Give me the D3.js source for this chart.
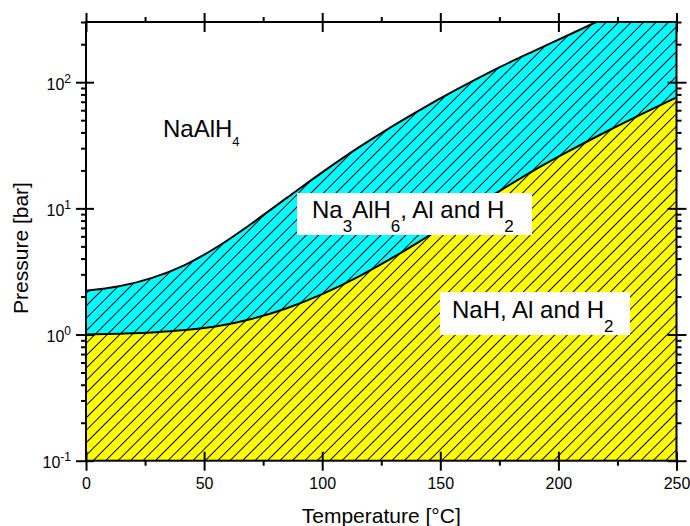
<!DOCTYPE html>
<html>
<head>
<meta charset="utf-8">
<script src="https://cdn.jsdelivr.net/npm/d3@7"></script>
<style>
  body { margin: 0; background: #fff; }
  text { font-family: "Liberation Sans", Arial, sans-serif; fill: #000; }
</style>
</head>
<body>
<div id="chart"></div>
<script>

// upper boundary: NaAlH4 <-> Na3AlH6 + Al + H2
var upperT = [0, 14, 28, 42, 56, 70, 85, 100, 115, 130, 145, 160, 175, 190, 205, 216];
var upperP = [2.22, 2.41, 2.81, 3.57, 5.01, 7.55, 12.1, 19.3, 30.0, 45.1, 65.9, 93.8, 131, 178, 240, 300];

// lower boundary: Na3AlH6 <-> NaH + Al + H2
var lowerT = [0, 14, 28, 42, 56, 70, 85, 100, 115, 130, 145, 160, 175, 190, 205, 220, 235, 250];
var lowerP = [1.00, 1.016, 1.039, 1.084, 1.167, 1.328, 1.617, 2.09, 2.85, 4.08, 6.05, 9.12, 13.7, 20.2, 28.8, 40.3, 55.6, 75.8];

// ticks
var xMajor = [0, 50, 100, 150, 200, 250];
var xMinor = [25, 75, 125, 175, 225];
var yMajor = [0.1, 1, 10, 100];
var yExponents = ["-1", "0", "1", "2"];
var yMinor = [0.2, 0.3, 0.4, 0.5, 0.6, 0.7, 0.8, 0.9,
              2, 3, 4, 5, 6, 7, 8, 9,
              20, 30, 40, 50, 60, 70, 80, 90,
              200, 300];

var outerWidth = 690,
    outerHeight = 526,
    plot = {left: 86, right: 676.5, top: 22, bottom: 460.7};

var svg = d3.select("#chart").append("svg")
    .attr("width", outerWidth)
    .attr("height", outerHeight);

var x = d3.scaleLinear().domain([0, 250]).range([plot.left, plot.right]);
var y = d3.scaleLog().domain([0.1, 300]).range([plot.bottom, plot.top]);

var defs = svg.append("defs");

defs.append("clipPath")
    .attr("id", "plot-area")
    .append("rect")
    .attr("x", plot.left)
    .attr("y", plot.top)
    .attr("width", plot.right - plot.left)
    .attr("height", plot.bottom - plot.top);

// diagonal hatch
var hatch = defs.append("pattern")
    .attr("id", "hatch")
    .attr("patternUnits", "userSpaceOnUse")
    .attr("width", 8.8)
    .attr("height", 8.8)
    .attr("patternTransform", "rotate(45)");
hatch.append("line")
    .attr("x1", 4.4).attr("y1", 0)
    .attr("x2", 4.4).attr("y2", 8.8)
    .attr("stroke", "#000")
    .attr("stroke-width", 1);

var upper = upperT.map(function(t, i) { return [t, upperP[i]]; });
var lower = lowerT.map(function(t, i) { return [t, lowerP[i]]; });

var line = d3.line()
    .x(function(d) { return x(d[0]); })
    .y(function(d) { return y(d[1]); })
    .curve(d3.curveMonotoneX);

var layer = svg.append("g").attr("clip-path", "url(#plot-area)");

// region under the upper curve (closed along the top edge after it leaves the frame)
var upperArea = line(upper) +
    "L" + x(250) + "," + y(300) +
    "L" + x(250) + "," + y(0.1) +
    "L" + x(0) + "," + y(0.1) + "Z";
var lowerArea = line(lower) +
    "L" + x(250) + "," + y(0.1) +
    "L" + x(0) + "," + y(0.1) + "Z";

layer.append("path").attr("d", upperArea).attr("fill", "#00ffff");
layer.append("path").attr("d", lowerArea).attr("fill", "#ffff00");
layer.append("path").attr("d", upperArea).attr("fill", "url(#hatch)");

layer.append("path").attr("d", line(upper))
    .attr("fill", "none").attr("stroke", "#000").attr("stroke-width", 2);
layer.append("path").attr("d", line(lower))
    .attr("fill", "none").attr("stroke", "#000").attr("stroke-width", 2);

// labels
function chemLabel(px, py, parts, size, subSize, subDy) {
  var t = svg.append("text")
      .attr("x", px).attr("y", py)
      .style("font-size", size + "px");
  var shift = 0;
  parts.forEach(function(p) {
    if (p.sub) {
      t.append("tspan").attr("dy", subDy - shift).style("font-size", subSize + "px").text(p.sub);
      shift = subDy;
    } else {
      t.append("tspan").attr("dy", -shift).text(p.t);
      shift = 0;
    }
  });
  return t;
}

chemLabel(163, 137, [{t: "NaAlH"}, {sub: "4"}], 24, 13, 9);

svg.append("rect").attr("x", 297).attr("y", 193).attr("width", 235).attr("height", 42).attr("fill", "#fff");
chemLabel(312, 218, [{t: "Na"}, {sub: "3"}, {t: "AlH"}, {sub: "6"}, {t: ", Al and H"}, {sub: "2"}], 24, 17, 14);

svg.append("rect").attr("x", 440).attr("y", 292).attr("width", 190).attr("height", 43).attr("fill", "#fff");
chemLabel(452, 318, [{t: "NaH, Al and H"}, {sub: "2"}], 24, 17, 14);

// axes
function ticksAt(axisFn, scale, values, size, translate) {
  var g = svg.append("g")
      .attr("transform", translate)
      .call(axisFn(scale).tickValues(values).tickSize(size).tickFormat(""));
  g.select(".domain").remove();
  g.selectAll("text").remove();
  g.selectAll("line").attr("stroke", "#000").attr("stroke-width", 2);
  return g;
}

var bottomT = "translate(0," + plot.bottom + ")",
    topT = "translate(0," + plot.top + ")",
    leftT = "translate(" + plot.left + ",0)",
    rightT = "translate(" + plot.right + ",0)";

ticksAt(d3.axisBottom, x, xMajor, -9, bottomT);
ticksAt(d3.axisBottom, x, xMinor, 5, bottomT);
ticksAt(d3.axisTop, x, xMajor, 9, topT);
ticksAt(d3.axisTop, x, xMajor, -10, topT);
ticksAt(d3.axisTop, x, xMinor, 5, topT);
ticksAt(d3.axisLeft, y, yMajor, -8, leftT);
ticksAt(d3.axisLeft, y, yMinor, 5, leftT);
ticksAt(d3.axisRight, y, yMajor, 10, rightT);
ticksAt(d3.axisRight, y, yMajor, -9, rightT);
ticksAt(d3.axisRight, y, yMinor, 5, rightT);

var xAxis = svg.append("g")
    .attr("transform", bottomT)
    .call(d3.axisBottom(x).tickValues(xMajor).tickSize(10).tickPadding(7));
xAxis.select(".domain").remove();
xAxis.selectAll("line").attr("stroke", "#000").attr("stroke-width", 2);
xAxis.selectAll("text").style("font-size", "16px").attr("fill", "#000");

var yAxis = svg.append("g")
    .attr("transform", leftT)
    .call(d3.axisLeft(y).tickValues(yMajor).tickSize(10).tickPadding(5).tickFormat(""));
yAxis.select(".domain").remove();
yAxis.selectAll("line").attr("stroke", "#000").attr("stroke-width", 2);
yAxis.selectAll("text")
    .style("font-size", "16px")
    .attr("fill", "#000")
    .attr("dy", "0.45em")
    .each(function(d, i) {
      var t = d3.select(this).text("10");
      t.append("tspan").attr("dy", -7).style("font-size", "12px").text(yExponents[i]);
    });

// frame
svg.append("rect")
    .attr("x", plot.left).attr("y", plot.top)
    .attr("width", plot.right - plot.left)
    .attr("height", plot.bottom - plot.top)
    .attr("fill", "none").attr("stroke", "#000").attr("stroke-width", 2);

// axis titles
svg.append("text")
    .attr("x", (plot.left + plot.right) / 2).attr("y", 523)
    .attr("text-anchor", "middle")
    .style("font-size", "21px")
    .text("Temperature [\u00b0C]");

svg.append("text")
    .attr("transform", "translate(28,248) rotate(-90)")
    .attr("text-anchor", "middle")
    .style("font-size", "21px")
    .text("Pressure [bar]");

</script>
</body>
</html>
